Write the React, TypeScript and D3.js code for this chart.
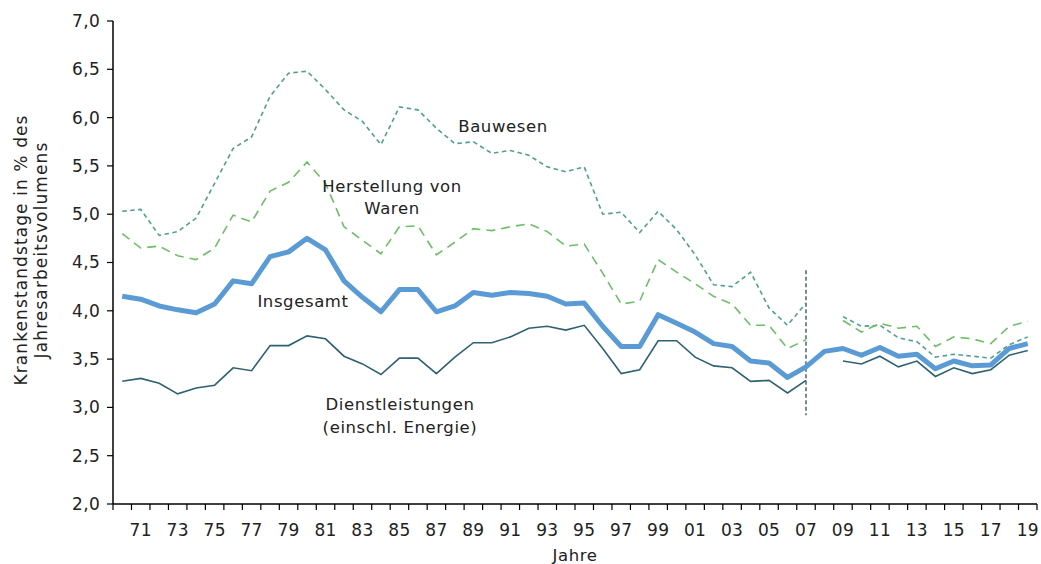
import React from "react";
import * as d3 from "d3";

const years: number[] = d3.range(1970, 2020);

const insgesamt: (number | null)[] = [
  4.15, 4.12, 4.05, 4.01, 3.98, 4.07, 4.31, 4.28, 4.56, 4.61,
  4.75, 4.63, 4.31, 4.14, 3.99, 4.22, 4.22, 3.99, 4.05, 4.19,
  4.16, 4.19, 4.18, 4.15, 4.07, 4.08, 3.84, 3.63, 3.63, 3.96,
  3.87, 3.78, 3.66, 3.63, 3.48, 3.46, 3.31, 3.42, 3.58, 3.61,
  3.54, 3.62, 3.53, 3.55, 3.40, 3.48, 3.43, 3.44, 3.61, 3.66,
];

const bauwesen: (number | null)[] = [
  5.03, 5.05, 4.78, 4.82, 4.96, 5.32, 5.68, 5.80, 6.22, 6.46,
  6.48, 6.29, 6.08, 5.96, 5.72, 6.11, 6.08, 5.89, 5.73, 5.75,
  5.63, 5.66, 5.61, 5.49, 5.44, 5.49, 5.00, 5.02, 4.81, 5.03,
  4.84, 4.58, 4.27, 4.25, 4.40, 4.03, 3.85, 4.08, null, 3.94,
  3.84, 3.85, 3.72, 3.68, 3.52, 3.55, 3.53, 3.51, 3.65, 3.73,
];

const herstellung: (number | null)[] = [
  4.80, 4.65, 4.67, 4.57, 4.53, 4.65, 4.99, 4.92, 5.24, 5.33,
  5.54, 5.32, 4.87, 4.73, 4.59, 4.87, 4.88, 4.58, 4.71, 4.85,
  4.83, 4.87, 4.90, 4.82, 4.67, 4.69, 4.39, 4.07, 4.10, 4.53,
  4.40, 4.28, 4.15, 4.07, 3.85, 3.85, 3.61, 3.70, null, 3.90,
  3.78, 3.87, 3.82, 3.84, 3.63, 3.73, 3.71, 3.66, 3.84, 3.89,
];

const dienst: (number | null)[] = [
  3.27, 3.30, 3.25, 3.14, 3.20, 3.23, 3.41, 3.38, 3.64, 3.64,
  3.74, 3.71, 3.53, 3.45, 3.34, 3.51, 3.51, 3.35, 3.52, 3.67,
  3.67, 3.73, 3.82, 3.84, 3.80, 3.85, 3.61, 3.35, 3.39, 3.69,
  3.69, 3.52, 3.43, 3.41, 3.27, 3.28, 3.15, 3.28, null, 3.48,
  3.45, 3.53, 3.42, 3.48, 3.32, 3.41, 3.35, 3.39, 3.54, 3.59,
];

const yTicks: number[] = [2.0, 2.5, 3.0, 3.5, 4.0, 4.5, 5.0, 5.5, 6.0, 6.5, 7.0];
const xLabelYears: number[] = years.filter((y) => y % 2 === 1);

const FONT = "'DejaVu Sans', 'Noto Sans', sans-serif";
const TXT = "#222";

export default function App() {
  const W = 1041;
  const H = 564;
  const left = 113;
  const right = 1037;
  const top = 21;
  const bottom = 504;

  const x = d3.scaleBand<number>().domain(years).range([left, right]).paddingInner(0).paddingOuter(0);
  const y = d3.scaleLinear().domain([2, 7]).range([bottom, top]);
  const cx = (yr: number) => (x(yr) as number) + x.bandwidth() / 2;

  const mkLine = (vals: (number | null)[]) =>
    d3
      .line<number>()
      .defined((_, i) => vals[i] !== null)
      .x((yr) => cx(yr))
      .y((_, i) => y(vals[i] as number))(years) || "";

  const fmt = (v: number) => v.toFixed(1).replace(".", ",");
  const lblStyle = { fontSize: 16.5, fill: TXT, letterSpacing: 0.6 } as const;
  const titleStyle = { fontSize: 17, fill: TXT, letterSpacing: 1.1 } as const;
  const tickStyle = { fontSize: 17, fill: TXT, letterSpacing: 0.3 } as const;

  return (
    <svg width={W} height={H} style={{ position: "absolute", left: 0, top: 0, background: "#fff" }} fontFamily={FONT}>
      {/* Y axis */}
      <line x1={left} x2={left} y1={top} y2={bottom} stroke="#000" strokeWidth={1.5} />
      {yTicks.map((t) => (
        <g key={t}>
          <line x1={left - 6} x2={left} y1={y(t)} y2={y(t)} stroke="#000" strokeWidth={1.2} />
          <text x={left - 13} y={y(t)} dy="0.35em" textAnchor="end" style={tickStyle}>
            {fmt(t)}
          </text>
        </g>
      ))}
      {/* X axis */}
      <line x1={left} x2={right} y1={bottom} y2={bottom} stroke="#000" strokeWidth={1.5} />
      {years.concat([2020]).map((yr) => {
        const px = yr === 2020 ? right : (x(yr) as number);
        return <line key={yr} x1={px} x2={px} y1={bottom} y2={bottom + 6} stroke="#000" strokeWidth={1.2} />;
      })}
      {xLabelYears.map((yr) => (
        <text key={yr} x={cx(yr)} y={530} dy="0.35em" textAnchor="middle" style={tickStyle}>
          {String(yr % 100).padStart(2, "0")}
        </text>
      ))}
      <text x={575} y={555} dy="0.35em" textAnchor="middle" style={lblStyle}>
        Jahre
      </text>
      {/* Y title */}
      <g transform={`translate(21, 250) rotate(-90)`}>
        <text x={0} y={0} dy="0.35em" textAnchor="middle" style={titleStyle}>
          Krankenstandstage in % des
        </text>
        <text x={0} y={20} dy="0.35em" textAnchor="middle" style={titleStyle}>
          Jahresarbeitsvolumens
        </text>
      </g>

      {/* Break line at 2007 */}
      <line x1={cx(2007)} x2={cx(2007)} y1={y(4.42)} y2={y(2.92)} stroke="#2F4F4F" strokeWidth={1.3} strokeDasharray="4,2.5" />

      {/* Series */}
      <path d={mkLine(bauwesen)} fill="none" stroke="#4FA08E" strokeWidth={1.6} strokeDasharray="4.5,3.5" />
      <path d={mkLine(herstellung)} fill="none" stroke="#6DBF67" strokeWidth={1.6} strokeDasharray="9,6" />
      <path d={mkLine(dienst)} fill="none" stroke="#2E6272" strokeWidth={1.6} />
      <path d={mkLine(insgesamt)} fill="none" stroke="#5B9BD5" strokeWidth={5} strokeLinejoin="round" />

      {/* Labels */}
      <text x={503} y={126} dy="0.35em" textAnchor="middle" style={lblStyle}>
        Bauwesen
      </text>
      <text x={392} y={186} dy="0.35em" textAnchor="middle" style={lblStyle}>
        Herstellung von
      </text>
      <text x={392} y={208} dy="0.35em" textAnchor="middle" style={lblStyle}>
        Waren
      </text>
      <text x={303} y={301} dy="0.35em" textAnchor="middle" style={lblStyle}>
        Insgesamt
      </text>
      <text x={400} y={404} dy="0.35em" textAnchor="middle" style={lblStyle}>
        Dienstleistungen
      </text>
      <text x={400} y={427} dy="0.35em" textAnchor="middle" style={lblStyle}>
        (einschl. Energie)
      </text>
    </svg>
  );
}
